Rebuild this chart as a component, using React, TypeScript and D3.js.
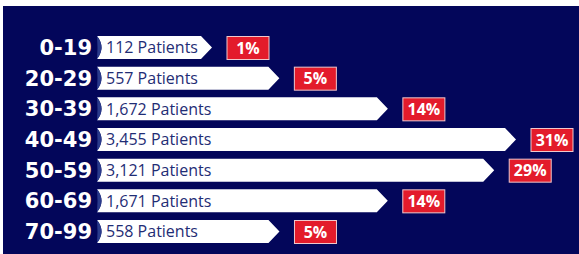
import React from "react";
import * as d3 from "d3";

const ageGroups = ["0-19", "20-29", "30-39", "40-49", "50-59", "60-69", "70-99"];
const patientCounts = [112, 557, 1672, 3455, 3121, 1671, 558];
const percentLabels = ["1%", "5%", "14%", "31%", "29%", "14%", "5%"];

const width = 579;
const height = 254;
const barLeft = 97;
const tipLength = 11;

export default function App() {
    const rowScale = d3.scaleBand<string>()
        .domain(ageGroups)
        .range([36, 243])
        .paddingInner(0.25);

    // bar tips are not strictly proportional in the original, a pow scale gets close
    const lengthScale = d3.scalePow()
        .exponent(0.65)
        .domain([112, 3455])
        .range([212, 516]);

    const bh = rowScale.bandwidth();

    return (
        <svg width={width} height={height}
            style={{ position: "absolute", left: 0, top: 0, display: "block" }}>
            <rect x={0} y={0} width={width} height={height} fill="#ffffff" />
            <rect x={3} y={6} width={width - 3} height={height - 6} fill="#03065a" />
            {ageGroups.map((age, i) => {
                const top = rowScale(age) as number;
                const mid = top + bh / 2;
                const bottom = top + bh;
                const tip = lengthScale(patientCounts[i]);
                const bodyEnd = tip - tipLength;
                const bar = `M${barLeft},${top} L${bodyEnd},${top} L${tip},${mid} L${bodyEnd},${bottom} L${barLeft},${bottom} Q${barLeft + 9},${mid} ${barLeft},${top} Z`;
                const crescent = `M${barLeft},${top} Q${barLeft + 9},${mid} ${barLeft},${bottom} Q${barLeft + 1},${mid} ${barLeft},${top} Z`;
                const boxX = tip + 15;
                return (
                    <g key={age}>
                        <text x={92} y={mid} dy="0.36em" textAnchor="end" fill="#ffffff"
                            fontFamily="DejaVu Sans" fontWeight="bold" fontSize={21}>{age}</text>
                        <path d={bar} fill="#ffffff" />
                        <path d={crescent} fill="#2a3b8c" />
                        <text x={106} y={mid} dy="0.36em" fill="#1f2d75"
                            fontFamily="Open Sans" fontSize={16}>
                            {d3.format(",")(patientCounts[i])} Patients
                        </text>
                        <rect x={boxX} y={top + 0.5} width={42} height={bh} fill="#e31b2b"
                            stroke="#f0c8cc" strokeWidth={1} />
                        <text x={boxX + 21} y={mid + 0.5} dy="0.36em" textAnchor="middle" fill="#ffffff"
                            fontFamily="Open Sans" fontWeight="bold" fontSize={16}>{percentLabels[i]}</text>
                    </g>
                );
            })}
        </svg>
    );
}
